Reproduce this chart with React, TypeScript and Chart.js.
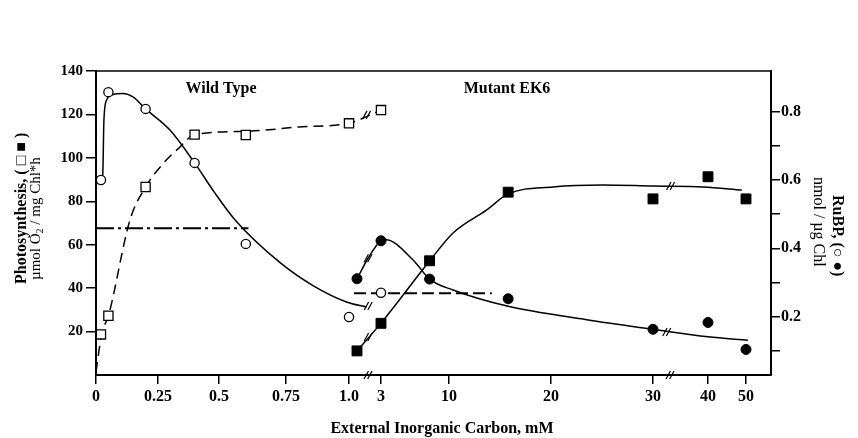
import React, { useEffect, useRef } from 'react';
import { Chart, registerables, LinearScale } from 'chart.js';

Chart.register(...registerables);

// ---------- axis definitions ----------
const X_TICK_VALUES = [0, 0.25, 0.5, 0.75, 1.0, 3, 10, 20, 30, 40, 50];
const X_TICK_LABELS = ['0', '0.25', '0.5', '0.75', '1.0', '3', '10', '20', '30', '40', '50'];
// broken axis: mM knots and their relative position along the axis
const X_KNOT_VALUES = [0, 0.25, 0.5, 0.75, 1.0, 3, 10, 20, 30, 40, 50, 56.6];
const X_KNOT_FRACS = [0, 62, 123, 190, 253, 285, 353, 455, 557, 612, 650, 675].map((p) => p / 675);
const Y_LEFT_TICKS = [20, 40, 60, 80, 100, 120, 140];
const Y_RIGHT_TICKS = [0.1, 0.2, 0.3, 0.4, 0.5, 0.6, 0.7, 0.8];

// ---------- measured points ----------
const WT_CI = [0.02, 0.05, 0.2, 0.4, 0.6, 1.0, 3];
const WT_PHOTO = [18.7, 27.3, 86.6, 110.7, 110.5, 115.9, 122];
const WT_RUBP = [0.6, 0.857, 0.808, 0.65, 0.413, 0.199, 0.27];
const MUT_CI = [1.5, 3, 8, 15.8, 30, 40, 50];
const MUT_PHOTO = [11.1, 23.8, 52.6, 84.2, 81.1, 91.3, 81.1];
const MUT_RUBP = [0.311, 0.422, 0.31, 0.2525, 0.163, 0.183, 0.104];

// ---------- fitted curves ----------
const WT_PHOTO_FIT_CI = [0, 0.023, 0.05, 0.137, 0.2, 0.272, 0.34, 0.4, 0.6, 0.8, 1.0, 3];
const WT_PHOTO_FIT = [1.5, 18.9, 27.2, 71.4, 86.6, 97.5, 105, 110.7, 112.2, 114.2, 116, 122];
const WT_RUBP_FIT_CI = [0.02, 0.027, 0.032, 0.043, 0.069, 0.109, 0.149, 0.2, 0.299, 0.4, 0.48, 0.56, 0.728, 0.857, 0.99, 2.1];
const WT_RUBP_FIT = [0.6, 0.614, 0.776, 0.834, 0.85, 0.853, 0.843, 0.808, 0.746, 0.65, 0.565, 0.483, 0.358, 0.291, 0.243, 0.228];
const MUT_PHOTO_FIT_CI = [1.5, 3, 8, 10.4, 13.7, 15.8, 20.2, 25.1, 30, 39.1, 48.9];
const MUT_PHOTO_FIT = [11.1, 23.9, 52.5, 65.4, 76, 83.4, 86.6, 87.5, 87, 86.6, 85.2];
const MUT_RUBP_FIT_CI = [1.5, 2.19, 3, 3.5, 6.3, 8, 10.4, 15.7, 23.5, 30, 40, 50.5];
const MUT_RUBP_FIT = [0.31, 0.371, 0.422, 0.425, 0.366, 0.31, 0.278, 0.231, 0.191, 0.163, 0.141, 0.131];

// horizontal reference lines
const WT_REF_CI = [0, 0.61];
const WT_REF = [67.6, 67.6];
const MUT_REF_CI = [1.31, 14.2];
const MUT_REF = [37.7, 37.7];

// axis-break marks "//"
const BREAK_CI = [2.19, 33.1, 2.1, 2.2, 2.2, 2.19, 33.2, 32.5];
const BREAK_VAL = [0, 0, 119.8, 0.231, 17.5, 0.371, 87, 0.155];
const BREAK_AXIS = ['y', 'y', 'y', 'y2', 'y', 'y2', 'y', 'y2'];

const SERIF = '"Liberation Serif", "DejaVu Serif", serif';

function toFrac(v: number): number {
  const k = X_KNOT_VALUES;
  const f = X_KNOT_FRACS;
  if (v <= k[0]) return f[0];
  for (let i = 1; i < k.length; i++) {
    if (v <= k[i]) return f[i - 1] + ((f[i] - f[i - 1]) * (v - k[i - 1])) / (k[i] - k[i - 1]);
  }
  return f[f.length - 1];
}
function fromFrac(t: number): number {
  const k = X_KNOT_VALUES;
  const f = X_KNOT_FRACS;
  if (t <= f[0]) return k[0];
  for (let i = 1; i < f.length; i++) {
    if (t <= f[i]) return k[i - 1] + ((k[i] - k[i - 1]) * (t - f[i - 1])) / (f[i] - f[i - 1]);
  }
  return k[k.length - 1];
}

class BrokenScale extends LinearScale {
  static id = 'broken';
  static defaults = LinearScale.defaults;
  buildTicks() {
    return X_TICK_VALUES.map((value) => ({ value }));
  }
  getPixelForValue(value: number) {
    return (this as any).left + (this as any).width * toFrac(value);
  }
  getValueForPixel(pixel: number) {
    return fromFrac((pixel - (this as any).left) / (this as any).width);
  }
}
Chart.register(BrokenScale as any);

const pts = (xs: number[], ys: number[]) => xs.map((x, i) => ({ x, y: ys[i] }));

type Run = { text: string; size: number; weight?: string; dy?: number };
function drawRuns(ctx: CanvasRenderingContext2D, runs: Run[], x: number, y: number, rot: number) {
  ctx.save();
  ctx.translate(x, y);
  ctx.rotate(rot);
  ctx.textAlign = 'left';
  ctx.textBaseline = 'middle';
  ctx.fillStyle = '#000';
  let cx = 0;
  for (const r of runs) {
    ctx.font = `${r.weight || 'normal'} ${r.size}px ${SERIF}`;
    ctx.fillText(r.text, cx, r.dy || 0);
    cx += ctx.measureText(r.text).width;
  }
  ctx.restore();
}

const annotPlugin = {
  id: 'annot',
  afterDraw(chart: any) {
    const ctx: CanvasRenderingContext2D = chart.ctx;
    const { left, right, top } = chart.chartArea;
    const xs = chart.scales.x;
    ctx.save();
    ctx.strokeStyle = '#000';
    ctx.lineWidth = 1.5;
    ctx.beginPath();
    ctx.moveTo(left - 1, top);
    ctx.lineTo(right + 1, top);
    ctx.stroke();

    // break marks
    ctx.lineWidth = 1.2;
    for (let i = 0; i < BREAK_CI.length; i++) {
      const px = xs.getPixelForValue(BREAK_CI[i]);
      const py = chart.scales[BREAK_AXIS[i]].getPixelForValue(BREAK_VAL[i]);
      for (const off of [-1.8, 1.8]) {
        ctx.beginPath();
        ctx.moveTo(px + off - 2.2, py + 4);
        ctx.lineTo(px + off + 2.2, py - 4);
        ctx.stroke();
      }
    }
    ctx.restore();

    // texts
    ctx.save();
    ctx.fillStyle = '#000';
    ctx.textBaseline = 'alphabetic';
    ctx.textAlign = 'center';
    ctx.font = `bold 16px ${SERIF}`;
    ctx.fillText('Wild Type', 221, 93);
    ctx.fillText('Mutant EK6', 507, 93);
    ctx.textBaseline = 'middle';
    ctx.fillText('External Inorganic Carbon, mM', 442, 429);
    ctx.restore();

    drawRuns(ctx, [{ text: 'Photosynthesis, ( \u25A1 \u25A0 )', size: 16, weight: 'bold' }], 21.7, 284, -Math.PI / 2);
    drawRuns(
      ctx,
      [
        { text: '\u00B5mol O', size: 15 },
        { text: '2', size: 10, dy: 4 },
        { text: ' / mg Chl*h', size: 15 },
      ],
      36.5,
      280,
      -Math.PI / 2
    );
    drawRuns(ctx, [{ text: 'RuBP, (\u25CB \u25CF)', size: 16, weight: 'bold' }], 836.7, 195, Math.PI / 2);
    drawRuns(ctx, [{ text: 'nmol / \u00B5g Chl', size: 16 }], 818.5, 177, Math.PI / 2);
  },
};

const lineDs = (
  label: string,
  xs: number[],
  ys: number[],
  axis: string,
  dash: number[] = [],
  width = 1.5
) => ({
  label,
  data: pts(xs, ys),
  yAxisID: axis,
  showLine: true,
  pointRadius: 0,
  borderColor: '#000',
  borderWidth: width,
  borderDash: dash,
  fill: false,
  cubicInterpolationMode: 'monotone',
});

export default function App() {
  const ref = useRef<HTMLCanvasElement>(null);
  useEffect(() => {
    const tickFont = { family: SERIF, size: 16, weight: 'bold' as const };
    const chart = new Chart(ref.current as HTMLCanvasElement, {
      type: 'scatter',
      data: {
        datasets: [
          {
            label: 'Wild type photosynthesis',
            data: pts(WT_CI, WT_PHOTO),
            yAxisID: 'y',
            showLine: false,
            pointStyle: 'rect',
            pointRadius: 6.5,
            pointBorderWidth: 1.3,
            pointBorderColor: '#000',
            pointBackgroundColor: '#fff',
          },
          {
            label: 'Wild type RuBP',
            data: pts(WT_CI, WT_RUBP),
            yAxisID: 'y2',
            showLine: false,
            pointStyle: 'circle',
            pointRadius: 4.6,
            pointBorderWidth: 1.3,
            pointBorderColor: '#000',
            pointBackgroundColor: '#fff',
          },
          {
            label: 'EK6 photosynthesis',
            data: pts(MUT_CI, MUT_PHOTO),
            yAxisID: 'y',
            showLine: false,
            pointStyle: 'rect',
            pointRadius: 7,
            pointBorderWidth: 1,
            pointBorderColor: '#000',
            pointBackgroundColor: '#000',
          },
          {
            label: 'EK6 RuBP',
            data: pts(MUT_CI, MUT_RUBP),
            yAxisID: 'y2',
            showLine: false,
            pointStyle: 'circle',
            pointRadius: 5,
            pointBorderWidth: 1,
            pointBorderColor: '#000',
            pointBackgroundColor: '#000',
          },
          lineDs('WT photosynthesis fit', WT_PHOTO_FIT_CI, WT_PHOTO_FIT, 'y', [10, 6]),
          lineDs('WT RuBP fit', WT_RUBP_FIT_CI, WT_RUBP_FIT, 'y2'),
          lineDs('EK6 photosynthesis fit', MUT_PHOTO_FIT_CI, MUT_PHOTO_FIT, 'y'),
          lineDs('EK6 RuBP fit', MUT_RUBP_FIT_CI, MUT_RUBP_FIT, 'y2'),
          lineDs('WT reference', WT_REF_CI, WT_REF, 'y', [18, 4, 3, 4], 2),
          lineDs('EK6 reference', MUT_REF_CI, MUT_REF, 'y', [12, 5], 2),
        ] as any,
      },
      options: {
        responsive: false,
        animation: false,
        devicePixelRatio: 1,
        layout: { padding: { top: 71, left: 0, right: 0, bottom: 0 } },
        plugins: { legend: { display: false }, tooltip: { enabled: false }, title: { display: false } },
        scales: {
          x: {
            type: 'broken' as any,
            position: 'bottom',
            min: 0,
            max: 56.6,
            grid: { drawOnChartArea: false, drawTicks: true, tickLength: 9, color: '#000', lineWidth: 1.5 },
            border: { display: true, color: '#000', width: 2 },
            ticks: {
              font: tickFont,
              color: '#000',
              padding: 3,
              maxRotation: 0,
              autoSkip: false,
              callback: (_v: any, i: number) => X_TICK_LABELS[i],
            },
            afterFit: (s: any) => {
              s.height = 63;
            },
          } as any,
          y: {
            type: 'linear',
            position: 'left',
            min: 0,
            max: 140,
            afterBuildTicks: (s: any) => {
              s.ticks = Y_LEFT_TICKS.map((value) => ({ value }));
            },
            grid: { drawOnChartArea: false, drawTicks: true, tickLength: 10, color: '#000', lineWidth: 1.5 },
            border: { display: true, color: '#000', width: 2 },
            ticks: {
              font: { family: SERIF, size: 15, weight: 'bold' },
              color: '#000',
              padding: 3,
              callback: (v: any) => String(v),
            },
            afterFit: (s: any) => {
              s.width = 96;
            },
          },
          y2: {
            type: 'linear',
            position: 'right',
            min: 0.0293,
            max: 0.9189,
            afterBuildTicks: (s: any) => {
              s.ticks = Y_RIGHT_TICKS.map((value) => ({ value }));
            },
            grid: { drawOnChartArea: false, drawTicks: true, tickLength: 9, color: '#000', lineWidth: 1.5 },
            border: { display: true, color: '#000', width: 2 },
            ticks: {
              font: tickFont,
              color: '#000',
              padding: 1,
              callback: (v: any) => (Math.round(Number(v) * 10) % 2 === 0 ? Number(v).toFixed(1) : ''),
            },
            afterFit: (s: any) => {
              s.width = 87;
            },
          },
        },
      },
      plugins: [annotPlugin],
    } as any);
    return () => chart.destroy();
  }, []);
  return (
    <div style={{ position: 'absolute', left: 0, top: 0, width: 858, height: 438, background: '#fff' }}>
      <canvas ref={ref} width={858} height={438} style={{ display: 'block' }} />
    </div>
  );
}
